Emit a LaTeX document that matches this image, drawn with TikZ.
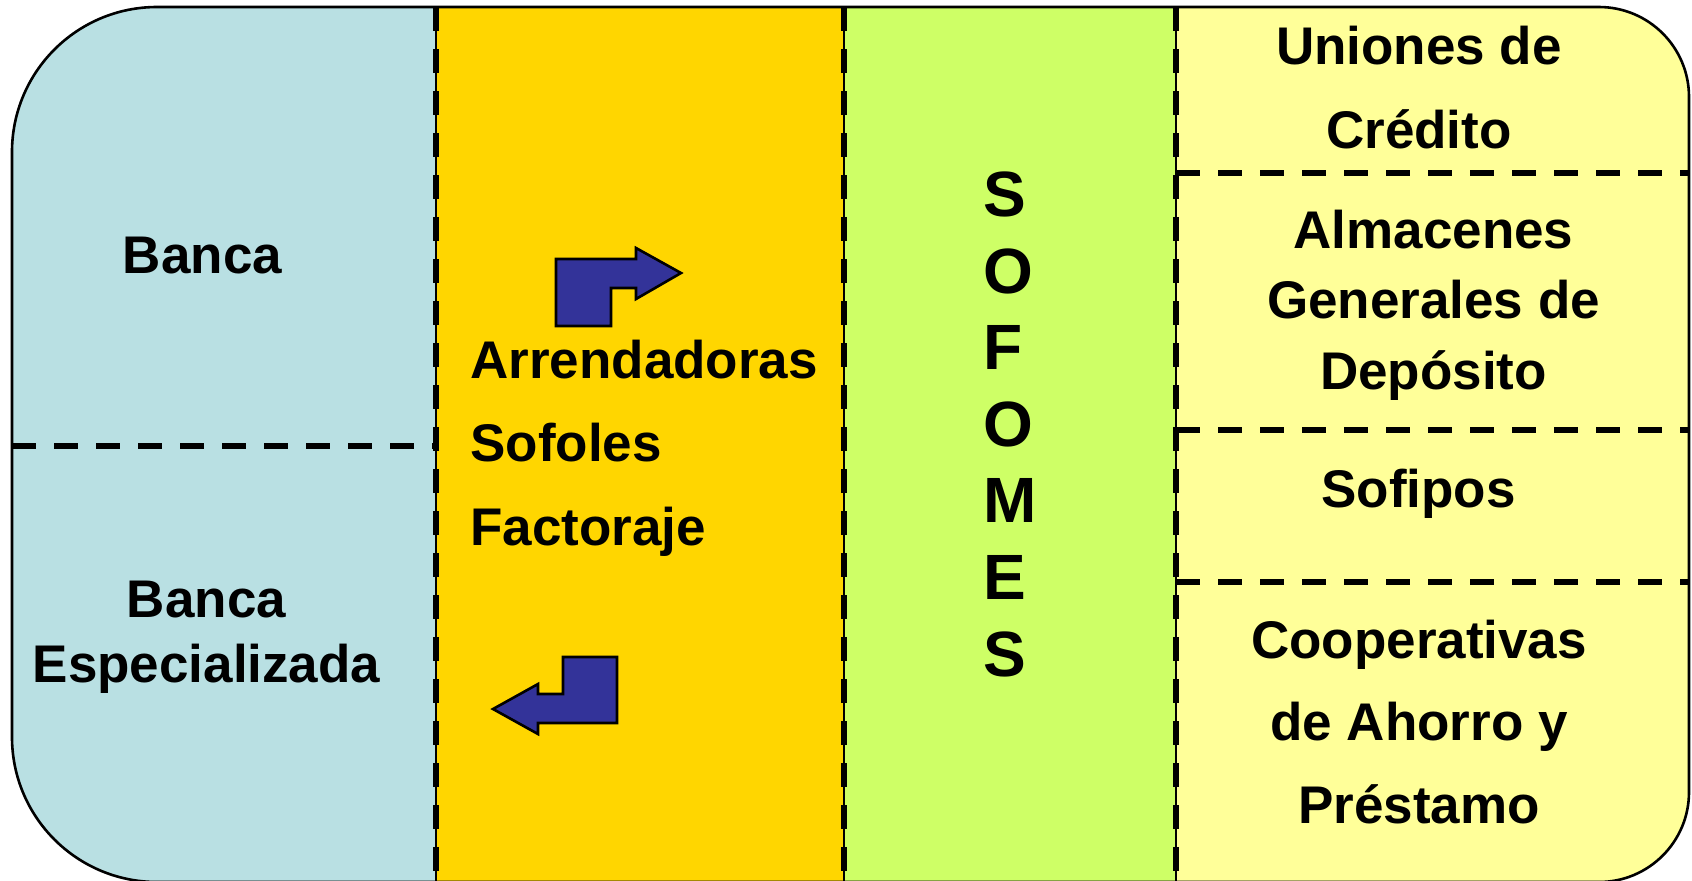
\documentclass[tikz,border=0pt]{standalone}
\usepackage{fontspec}
\setmainfont{Liberation Sans}
\usepackage{tikz}

\definecolor{bancablue}{RGB}{185,224,227}
\definecolor{nbgold}{RGB}{255,214,0}
\definecolor{sofomgreen}{RGB}{206,255,102}
\definecolor{ahorroyellow}{RGB}{255,255,153}
\definecolor{arrowblue}{RGB}{51,51,153}

\tikzset{
  paneltext/.style={inner sep=0pt, anchor=base, align=center, font=\bfseries\fontsize{26.5}{#1}\selectfont},
  paneltext/.default=32pt,
  sofomtext/.style={inner sep=0pt, anchor=base west, align=left, font=\bfseries\fontsize{32}{38.3}\selectfont},
  divider/.style={line width=2.8pt, dash pattern=on 12pt off 9pt},
  seam/.style={line width=1pt},
  border/.style={line width=1.3pt},
  bentarrow/.style={fill=arrowblue, draw=black, line width=1.3pt, line join=miter},
}

\begin{document}
\begin{tikzpicture}[x=0.5pt,y=0.5pt,yscale=-1,xscale=1]

\useasboundingbox (0,0) rectangle (1692,880);


\fill[bancablue] (436,7) -- (157,7) .. controls (76.9,7) and (12,71.9) .. (12,152) -- (12,737) .. controls (12,817.1) and (76.9,882) .. (157,882) -- (436,882) -- cycle;

\fill[nbgold] (436,7) rectangle (844,882);

\fill[sofomgreen] (844,7) rectangle (1176,882);

\fill[ahorroyellow] (1176,7) -- (1599,7) .. controls (1648.7,7) and (1689,47.3) .. (1689,97) -- (1689,792) .. controls (1689,841.7) and (1648.7,882) .. (1599,882) -- (1176,882) -- cycle;

\draw[border] (157,7) -- (1599,7) .. controls (1648.7,7) and (1689,47.3) .. (1689,97) -- (1689,792) .. controls (1689,841.7) and (1648.7,882) .. (1599,882) -- (157,882) .. controls (76.9,882) and (12,817.1) .. (12,737) -- (12,152) .. controls (12,71.9) and (76.9,7) .. (157,7) -- cycle;


\draw[seam] (436,7) -- (436,882);
\draw[divider] (436,7) -- (436,882);

\draw[seam] (844,7) -- (844,882);
\draw[divider] (844,7) -- (844,882);

\draw[seam] (1176,7) -- (1176,882);
\draw[divider] (1176,7) -- (1176,882);

\draw[divider] (12,446) -- (436,446);

\draw[divider] (1176,173) -- (1689,173);

\draw[divider] (1176,430) -- (1689,430);

\draw[divider] (1176,582) -- (1689,582);


\draw[bentarrow] (556,259) -- (636,259) -- (636,248) -- (681,273) -- (636,299) -- (636,288) -- (611,288) -- (611,326) -- (556,326) -- cycle;

\draw[bentarrow] (617,657) -- (617,723) -- (538,723) -- (538,734) -- (493,709) -- (538,684) -- (538,694) -- (563,694) -- (563,657) -- cycle;


\node[paneltext] (banca) at (202.5,273) {Banca};

\node[paneltext=32.35pt] (bancaesp) at (206.5,682) {Banca\\Especializada};

\node[paneltext=41.75pt, anchor=base west, align=left] (nobancarias) at (470,545) {Arrendadoras\\Sofoles\\Factoraje};

\node[sofomtext] (sofomes) at (983,676) {S\\O\\F\\O\\M\\E\\S};

\node[paneltext=42pt] (uniones) at (1419,148) {Uniones de\\Crédito};

\node[paneltext=35.25pt] (almacenes) at (1433.5,389) {Almacenes\\Generales de\\Depósito};

\node[paneltext] (sofipos) at (1418.5,507) {Sofipos};

\node[paneltext=41.25pt] (cooperativas) at (1419,823) {Cooperativas\\de Ahorro y\\Préstamo};


\end{tikzpicture}
\end{document}
